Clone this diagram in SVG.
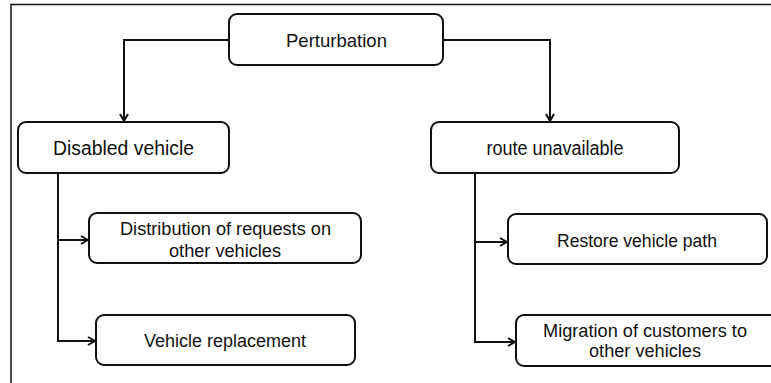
<svg xmlns="http://www.w3.org/2000/svg" width="771" height="383" viewBox="0 0 771 383">
<style>
.box{fill:#fff;stroke:#111;stroke-width:2}
.t{font-family:"Liberation Sans",Arial,sans-serif;font-size:18px;fill:#111;text-anchor:middle}
.l{font-size:20px}
.c{fill:none;stroke:#111;stroke-width:2}
</style>
<defs>
<marker id="ah" viewBox="0 0 10 10" refX="9" refY="5" markerWidth="10" markerHeight="10" markerUnits="userSpaceOnUse" orient="auto">
<path d="M2,1 L9,5 L2,9" fill="none" stroke="#111" stroke-width="2"/>
</marker>
</defs>
<rect width="771" height="383" fill="#fff"/>
<path d="M11,383 V4.5 H771" fill="none" stroke="#111" stroke-width="1.5"/>
<g id="connectors">
<path class="c" d="M229,40 H124 V121" marker-end="url(#ah)"/>
<path class="c" d="M443,40 H550 V121" marker-end="url(#ah)"/>
<path class="c" d="M58,173 V341 H95" marker-end="url(#ah)"/>
<path class="c" d="M58,240 H88" marker-end="url(#ah)"/>
<path class="c" d="M475,173 V342 H515" marker-end="url(#ah)"/>
<path class="c" d="M475,242 H507" marker-end="url(#ah)"/>
</g>
<g id="perturbation">
<rect class="box" x="229" y="14" width="214" height="51" rx="8"/>
<text class="t" x="336.5" y="46.5" style="font-size:19px" textLength="101" lengthAdjust="spacingAndGlyphs">Perturbation</text>
</g>
<g id="disabled-vehicle">
<rect class="box" x="18" y="122" width="211" height="51" rx="8"/>
<text class="t l" x="123.5" y="155" textLength="141" lengthAdjust="spacingAndGlyphs">Disabled vehicle</text>
</g>
<g id="route-unavailable">
<rect class="box" x="431" y="122" width="248" height="51" rx="8"/>
<text class="t l" x="555" y="155" textLength="137" lengthAdjust="spacingAndGlyphs">route unavailable</text>
</g>
<g id="distribution">
<rect class="box" x="89" y="213" width="272" height="50" rx="8"/>
<text class="t" x="225.5" y="235" textLength="211" lengthAdjust="spacingAndGlyphs">Distribution of requests on</text>
<text class="t" x="225" y="257" textLength="112" lengthAdjust="spacingAndGlyphs">other vehicles</text>
</g>
<g id="replacement">
<rect class="box" x="96" y="315" width="259" height="50" rx="8"/>
<text class="t" x="225" y="347" textLength="162" lengthAdjust="spacingAndGlyphs">Vehicle replacement</text>
</g>
<g id="restore">
<rect class="box" x="508" y="214" width="259" height="50" rx="8"/>
<text class="t" x="637" y="247" textLength="160" lengthAdjust="spacingAndGlyphs">Restore vehicle path</text>
</g>
<g id="migration">
<rect class="box" x="516" y="315" width="262" height="51" rx="8"/>
<text class="t" x="645" y="337" textLength="204" lengthAdjust="spacingAndGlyphs">Migration of customers to</text>
<text class="t" x="645" y="357" textLength="112" lengthAdjust="spacingAndGlyphs">other vehicles</text>
</g>
</svg>
